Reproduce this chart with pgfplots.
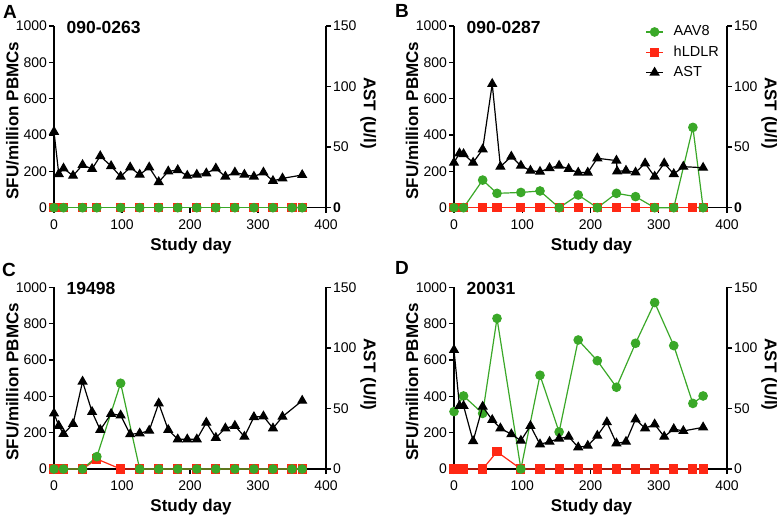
\documentclass[border=0pt]{standalone}
\usepackage{fontspec}
\setmainfont{Liberation Sans}
\usepackage{pgfplots}
\pgfplotsset{compat=1.18}
\definecolor{aavgreen}{RGB}{58,168,40}
\definecolor{ldlrred}{RGB}{255,40,20}

\pgfplotsset{
  base/.style={
    width=136pt, height=90.85pt, scale only axis,
    xmin=0, xmax=400, clip=false,
    tick align=outside, major tick length=2.5pt,
    axis line style={line width=0.7pt}, tick style={line width=0.7pt, black},
    tick label style={font=\fontsize{7}{8}\selectfont},
    yticklabel style={inner sep=0.8pt},
    label style={font=\fontsize{8.5}{10}\selectfont\bfseries},
  },
  sfu/.style={base,
    ymin=0, ymax=1000,
    axis x line*=bottom, axis y line*=left,
    xtick={0,100,200,300,400}, xticklabels={0,100,200,300,400},
    ytick={0,200,400,600,800,1000}, yticklabels={0,200,400,600,800,1000},
    xlabel={Study day}, ylabel={SFU/million PBMCs},
    xlabel style={at={(axis description cs:0.504,-0.212)}, anchor=center},
    ylabel style={at={(axis description cs:-0.153,0.48)}, anchor=center},
  },
  ast/.style={base,
    ymin=0, ymax=150,
    axis x line=none, axis y line*=right,
    ytick={0,50,100,150},
    ylabel={AST (U/l)},
    ylabel style={at={(axis description cs:1.155,0.52)}, anchor=center, rotate=180},
  },
  aav/.style={color=aavgreen, line width=0.6pt, mark=*, mark size=2.1pt, mark options={fill=aavgreen, draw=aavgreen}},
  ldlr/.style={color=ldlrred, line width=0.6pt, mark=square*, mark size=2pt, mark options={fill=ldlrred, draw=ldlrred}},
  astl/.style={color=black, line width=0.6pt, mark=triangle*, mark size=2.4pt, mark options={fill=black}},
}
\newcommand{\ptitle}[1]{\node[anchor=west, inner sep=0pt, font=\fontsize{8.75}{10}\selectfont\bfseries] at (rel axis cs:0.045,0.994) {#1};}

\begin{document}
\begin{tikzpicture}
\useasboundingbox (0,0) rectangle (388.5pt,258pt);

% ---- A ----
\begin{axis}[sfu, at={(27pt,154.15pt)}, anchor=south west]
  \addplot[ldlr] coordinates {(0,0)(14,0)(42,0)(63,0)(98,0)(126,0)(154,0)(182,0)(210,0)(238,0)(266,0)(294,0)(322,0)(350,0)(365,0)};
  \addplot[aav] coordinates {(0,0)(14,0)(42,0)(63,0)(98,0)(126,0)(154,0)(182,0)(210,0)(238,0)(266,0)(294,0)(322,0)(350,0)(365,0)};
  \ptitle{090-0263}
\end{axis}
\begin{axis}[ast, at={(27pt,154.15pt)}, anchor=south west, yticklabels={\textbf{0},50,100,150}]
  \addplot[astl] coordinates {(0,62.7)(7,27.8)(14,32.4)(28,26.4)(42,35.3)(56,32.0)(68,42.6)(84,34.4)(98,25.7)(112,33.3)(126,27.3)(140,33.3)(154,21.2)(168,30.0)(182,31.1)(196,26.4)(210,27.3)(224,28.4)(238,32.4)(252,25.7)(266,29.1)(280,27.3)(294,25.7)(308,29.1)(322,22.1)(336,24.2)(365,27.0)};
\end{axis}

% ---- B ----
\begin{axis}[sfu, at={(227pt,154.15pt)}, anchor=south west, width=136.5pt]
  \addplot[ldlr] coordinates {(0,0)(14,0)(42,0)(63,0)(98,0)(126,0)(154,0)(182,0)(210,0)(238,0)(266,0)(294,0)(322,0)(350,0)(365,0)};
  \addplot[aav] coordinates {(0,0)(14,0)(42,152)(63,79)(98,84)(126,92)(154,0)(182,70)(210,0)(238,79)(266,61)(294,0)(322,0)(350,442)(365,0)};
  \ptitle{090-0287}
\end{axis}
\begin{axis}[ast, at={(227pt,154.15pt)}, anchor=south west, width=136.5pt, yticklabels={\textbf{0},50,100,150},
  legend style={at={(rel axis cs:0.70,1.0165)}, anchor=north west, draw=none, fill=none,
    font=\fontsize{7.25}{8}\selectfont, inner sep=0pt, row sep=1.5pt, nodes={inner sep=1pt},
    /tikz/every odd column/.append style={column sep=4pt}},
  legend cell align=left,
  legend image code/.code={\draw[mark repeat=2,mark phase=2] plot coordinates {(0pt,0pt)(4.25pt,0pt)(8.5pt,0pt)};}]
  \addlegendimage{aav}
  \addlegendimage{ldlr}
  \addplot[astl] coordinates {(0,37.2)(8,44.9)(14,44.3)(28,37.2)(42,48.2)(56,102.2)(68,33.9)(84,42.2)(98,34.7)(112,30.6)(126,29.7)(140,32.7)(154,34.7)(168,32.0)(182,29.0)(196,29.0)(210,40.8)(238,38.9)(239,30.0)(252,30.6)(266,29.1)(280,36.6)(294,25.7)(308,36.6)(322,27.8)(336,33.9)(365,33.0)};
  \legend{AAV8,hLDLR,AST}
\end{axis}

% ---- C ----
\begin{axis}[sfu, at={(27pt,23.5pt)}, anchor=south west]
  \addplot[ldlr] coordinates {(0,0)(14,0)(42,0)(63,55)(98,0)(126,0)(154,0)(182,0)(210,0)(238,0)(266,0)(294,0)(322,0)(350,0)(365,0)};
  \addplot[aav] coordinates {(0,0)(14,0)(42,0)(63,68)(98,472)(126,0)(154,0)(182,0)(210,0)(238,0)(266,0)(294,0)(322,0)(350,0)(365,0)};
  \ptitle{19498}
\end{axis}
\begin{axis}[ast, at={(27pt,23.5pt)}, anchor=south west, yticklabels={0,50,100,150}]
  \addplot[astl] coordinates {(0,45.9)(7,35.7)(14,29.0)(28,37.2)(42,72.2)(56,47.1)(68,32.3)(84,45.5)(98,44.3)(112,28.7)(126,29.4)(140,31.7)(154,54.2)(168,32.3)(182,24.5)(196,24.5)(210,24.5)(224,38.3)(238,25.8)(252,33.6)(266,35.7)(280,26.7)(294,42.9)(308,43.5)(322,33.6)(336,43.2)(365,56.4)};
\end{axis}

% ---- D ----
\begin{axis}[sfu, at={(227pt,23.5pt)}, anchor=south west, width=136.5pt]
  \addplot[ldlr] coordinates {(0,0)(14,0)(42,0)(63,95)(98,0)(126,0)(154,0)(182,0)(210,0)(238,0)(266,0)(294,0)(322,0)(350,0)(365,0)};
  \addplot[aav] coordinates {(0,316)(14,402)(42,306)(63,829)(98,0)(126,516)(154,204)(182,710)(210,596)(238,450)(266,692)(294,916)(322,679)(350,361)(365,402)};
  \ptitle{20031}
\end{axis}
\begin{axis}[ast, at={(227pt,23.5pt)}, anchor=south west, width=136.5pt, yticklabels={0,50,100,150}]
  \addplot[astl] coordinates {(0,98.3)(8,52.1)(14,52.1)(28,23.1)(42,51.5)(56,40.5)(68,33.6)(84,28.7)(98,23.4)(112,35.6)(126,20.4)(140,22.5)(154,25.1)(168,26.7)(182,17.9)(196,19.2)(210,27.5)(224,38.6)(238,21.2)(252,22.5)(266,41.0)(280,33.6)(294,36.9)(308,26.7)(322,33.0)(336,31.4)(365,34.4)};
\end{axis}

% panel letters
\node[font=\fontsize{9.5}{10}\selectfont\bfseries] at (5pt,252pt) {A};
\node[font=\fontsize{9.5}{10}\selectfont\bfseries] at (201pt,252.5pt) {B};
\node[font=\fontsize{9.5}{10}\selectfont\bfseries] at (4.5pt,123.25pt) {C};
\node[font=\fontsize{9.5}{10}\selectfont\bfseries] at (201pt,124pt) {D};
\end{tikzpicture}
\end{document}
